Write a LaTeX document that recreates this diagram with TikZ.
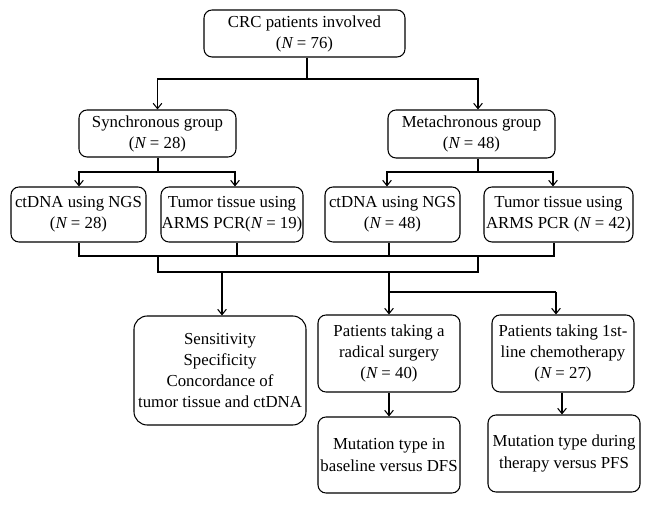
\documentclass[tikz,border=0pt]{standalone}
\usepackage{fontspec}
\setmainfont{Liberation Serif}
\usetikzlibrary{arrows.meta}
\begin{document}
\begin{tikzpicture}[x=0.75pt,y=-0.75pt,
  every path/.style={line width=0.8pt},
  box/.style 2 args={draw, rounded corners=6pt, inner sep=0pt, align=center,
    minimum width=#1*0.75pt, minimum height=#2*0.75pt,
    font=\fontsize{12.6}{15.8}\selectfont},
  arr/.style={-{Straight Barb[length=4pt,width=6.5pt]}}]
\useasboundingbox[fill=white] (0,0) rectangle (649,505);
% nodes
\node[box={201}{47}] (top) at (304.5,33.5) {CRC patients involved\\({\itshape N} = 76)};
\node[box={157}{47}] (sync) at (157.5,133.5) {Synchronous group\\({\itshape N} = 28)};
\node[box={167}{48}] (meta) at (471.5,134) {Metachronous group\\({\itshape N} = 48)};
\node[box={135}{55}] (ct1) at (78.5,214.5) {ctDNA using NGS\\({\itshape N} = 28)};
\node[box={142}{55}] (tu1) at (232,214.5) {Tumor tissue using\\ARMS PCR({\itshape N} = 19)};
\node[box={135}{55}] (ct2) at (392.5,214.5) {ctDNA using NGS\\({\itshape N} = 48)};
\node[box={149}{55}] (tu2) at (558.5,214.5) {Tumor tissue using\\ARMS PCR ({\itshape N} = 42)};
\node[box={172}{109}, rounded corners=10pt] (sens) at (220,370.5) {Sensitivity\\Specificity\\Concordance of\\tumor tissue and ctDNA};
\node[box={142}{77}] (rad) at (389,353.5) {Patients taking a\\radical surgery\\({\itshape N} = 40)};
\node[box={142}{77}] (first) at (563,353.5) {Patients taking 1st-\\line chemotherapy\\({\itshape N} = 27)};
\node[box={142}{76}] (mut1) at (389,455) {Mutation type in\\baseline versus DFS};
\node[box={152}{77}] (mut2) at (564,453.5) {Mutation type during\\therapy versus PFS};
% junction coordinates
\coordinate (j1) at (307,79);
\coordinate (sj) at (158,172);
\coordinate (mj) at (478,172);
\coordinate (ja) at (158,256);
\coordinate (jb) at (478,256);
\coordinate (jc) at (158,272);
\coordinate (jd) at (478,272);
\coordinate (je) at (222,272);
\coordinate (jf) at (389,272);
\coordinate (jg) at (389,292);
\coordinate (jh) at (556,292);
\coordinate (xa) at (79,0);
\coordinate (xb) at (235,0);
\coordinate (xc) at (387,0);
\coordinate (xd) at (553,0);
\coordinate (xe) at (237,0);
\coordinate (xf) at (389,0);
\coordinate (xg) at (554,0);
\coordinate (xh) at (562,0);
% top level
\draw (top.south -| j1) -- (j1);
\draw[arr] (j1) -| (sync.north);
\draw[arr] (j1) -| (meta.north -| mj);
% second level
\draw (sync.south -| sj) -- (sj);
\draw[arr] (sj) -| (ct1.north -| xa);
\draw[arr] (sj) -| (tu1.north -| xb);
\draw (meta.south -| mj) -- (mj);
\draw[arr] (mj) -| (ct2.north -| xc);
\draw[arr] (mj) -| (tu2.north -| xd);
% merge
\draw (ct1.south -| xa) -- (ja -| xa) -- (jb -| xg) -- (tu2.south -| xg);
\draw (tu1.south -| xe) -- (ja -| xe);
\draw (ct2.south -| xf) -- (ja -| xf);
\draw (ja) -- (jc) -- (jd) -- (jb);
\draw[arr] (je) -- (sens.north -| je);
\draw[arr] (jf) -- (rad.north -| jf);
\draw (jg) -- (jh);
\draw[arr] (jh) -- (first.north -| jh);
% last level
\draw[arr] (rad.south -| jf) -- (mut1.north -| jf);
\draw[arr] (first.south -| xh) -- (mut2.north -| xh);
\end{tikzpicture}
\end{document}
